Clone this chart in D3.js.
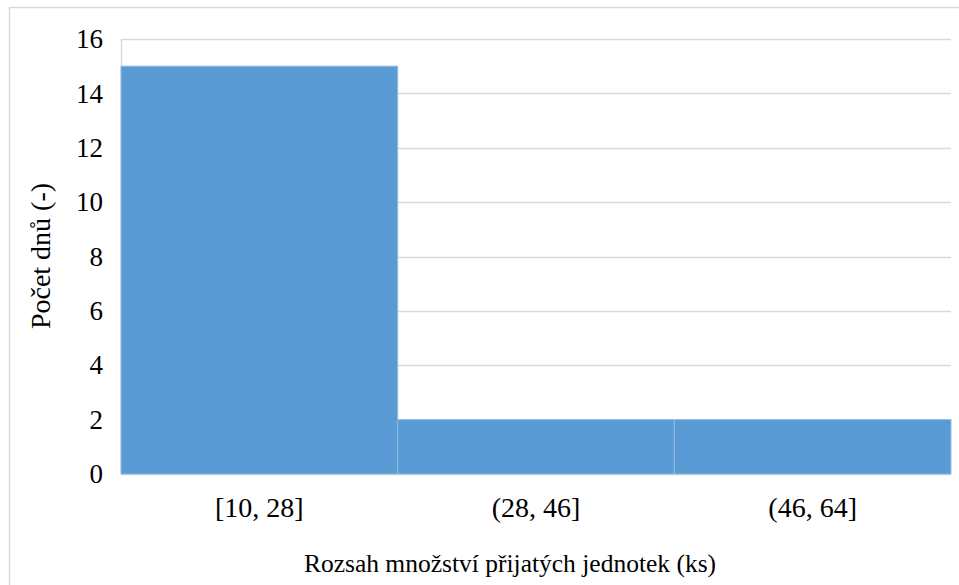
<!DOCTYPE html>
<html>
<head>
<meta charset="utf-8">
<script src="https://cdn.jsdelivr.net/npm/d3@7"></script>
<style>
  html, body { margin: 0; padding: 0; background: #fff; }
  svg { display: block; }
</style>
</head>
<body>
<svg id="chart" width="959" height="585"></svg>
<script>
// Histogram: number of days per range of received units
const categories = ["[10, 28]", "(28, 46]", "(46, 64]"];
const counts = [15, 2, 2];
const yTicks = [0, 2, 4, 6, 8, 10, 12, 14, 16];
const xTitle = "Rozsah množství přijatých jednotek (ks)";
const yTitle = "Počet dnů (-)";

const FONT = '"Liberation Serif"';
const W = 959, H = 585;
const margin = { left: 121, right: 8, top: 39, bottom: 111 };
const plotW = W - margin.left - margin.right;
const plotH = H - margin.top - margin.bottom;

const svg = d3.select("#chart");

// outer chart frame
svg.append("rect")
  .attr("x", 9.5).attr("y", 7.5)
  .attr("width", W + 10).attr("height", H + 10)
  .attr("fill", "none").attr("stroke", "#d9d9d9").attr("stroke-width", 1.5);

const g = svg.append("g").attr("transform", `translate(${margin.left},${margin.top})`);

const x = d3.scaleBand().domain(categories).range([0, plotW]).padding(0);
const y = d3.scaleLinear().domain([0, 16]).range([plotH, 0]);

// horizontal gridlines
g.append("g")
  .selectAll("line")
  .data(yTicks)
  .join("line")
  .attr("x1", 0).attr("x2", plotW)
  .attr("y1", d => Math.round(y(d)) + 0.5).attr("y2", d => Math.round(y(d)) + 0.5)
  .attr("stroke", "#d9d9d9").attr("stroke-width", 1.5);

// left edge of plot area
g.append("line")
  .attr("x1", 0.5).attr("x2", 0.5)
  .attr("y1", y(16)).attr("y2", y(0))
  .attr("stroke", "#d9d9d9").attr("stroke-width", 1.5);

// bars
g.append("g")
  .selectAll("rect")
  .data(counts)
  .join("rect")
  .attr("x", (d, i) => x(categories[i]))
  .attr("y", d => y(d))
  .attr("width", x.bandwidth())
  .attr("height", d => y(0) - y(d))
  .attr("fill", "#5b9bd5")
  .attr("stroke", "#8fbbe3")
  .attr("stroke-width", 1);

// y axis tick labels
const yAxis = d3.axisLeft(y).tickValues(yTicks).tickSize(0).tickPadding(18);
const ya = g.append("g").call(yAxis);
ya.attr("font-family", null).attr("font-size", null);
ya.select(".domain").remove();
ya.selectAll("text")
  .style("font-family", FONT)
  .style("font-size", "27px")
  .style("fill", "#000");

// x axis category labels
const xAxis = d3.axisBottom(x).tickSize(0).tickPadding(23);
const xa = g.append("g").attr("transform", `translate(0,${plotH})`).call(xAxis);
xa.attr("font-family", null).attr("font-size", null);
xa.select(".domain").remove();
xa.selectAll("text")
  .style("font-family", FONT)
  .style("font-size", "28px")
  .style("fill", "#000");

// axis titles
svg.append("text")
  .attr("x", 510).attr("y", 572)
  .attr("text-anchor", "middle")
  .style("font-family", FONT)
  .style("font-size", "25.5px")
  .style("fill", "#000")
  .text(xTitle);

svg.append("text")
  .attr("transform", "translate(50,256) rotate(-90)")
  .attr("text-anchor", "middle")
  .style("font-family", FONT)
  .style("font-size", "28px")
  .style("fill", "#000")
  .text(yTitle);
</script>
</body>
</html>
